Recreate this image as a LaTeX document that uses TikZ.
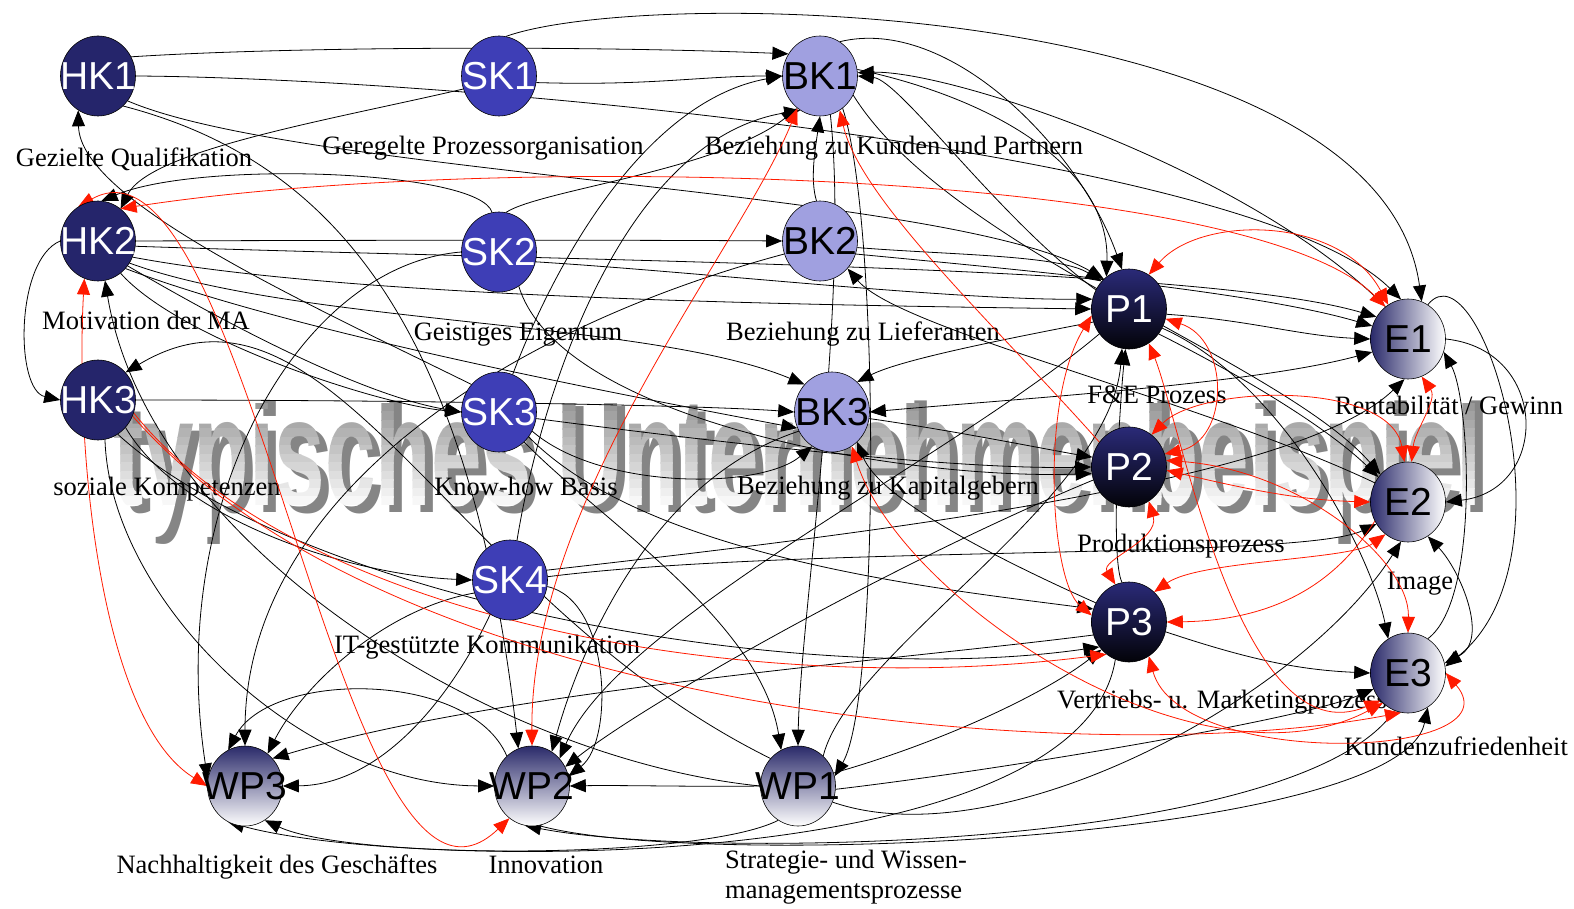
\documentclass[tikz,border=0pt]{standalone}
\usepackage{fontspec}
\setmainfont{Liberation Serif}
\newfontfamily\nodefam{Liberation Sans}
\newfontfamily\wmfam{Liberation Sans}
\usetikzlibrary{shapes.geometric,arrows.meta}
\definecolor{hkc}{HTML}{25256B}
\definecolor{skc}{HTML}{3E3EB6}
\definecolor{bkc}{HTML}{A0A0E0}
\definecolor{ptop}{HTML}{2A2A78}
\definecolor{pbot}{HTML}{030308}
\definecolor{eleft}{HTML}{2A2A6A}
\definecolor{wptop}{HTML}{2A2A6A}
\definecolor{redc}{HTML}{FF1A00}
\newcommand\nodefnt{\nodefam\fontsize{39}{39}\selectfont}
\newcommand\lblfnt{\rmfamily\fontsize{26.5}{30}\selectfont}
\newcommand\wmfnt{\wmfam\bfseries\fontsize{154}{160}\selectfont}
\newcommand\wmtxt{typisches Unternehmenbeispiel}
\pgfdeclarelayer{wmlayer}
\pgfdeclarelayer{edgelayer}
\pgfsetlayers{wmlayer,edgelayer,main}
\tikzset{
  nd/.style={ellipse, draw=black, line width=0.6pt, minimum width=75pt, minimum height=80pt, inner sep=0pt, font=\nodefnt},
  hkn/.style={nd, fill=hkc, text=white},
  skn/.style={nd, fill=skc, text=white},
  bkn/.style={nd, fill=bkc, text=black},
  pn/.style={nd, top color=ptop, bottom color=pbot, text=white},
  en/.style={nd, left color=eleft, right color=white, text=black},
  wpn/.style={nd, top color=wptop, bottom color=white, text=black},
  lbl/.style={font=\lblfnt, anchor=base, inner sep=0pt},
  wmtext/.style={anchor=base west, font=\wmfnt, inner sep=0pt, xscale=0.59},
  ed/.style={line width=0.8pt, -{Triangle[length=16pt,width=13pt]}},
  edd/.style={line width=0.8pt, {Triangle[length=16pt,width=13pt]}-{Triangle[length=16pt,width=13pt]}},
  rd/.style={ed, redc},
  rdd/.style={edd, redc}
}
\begin{document}
\begin{tikzpicture}[x=1pt,y=-1pt]
\useasboundingbox (0,0) rectangle (1574,909);
% watermark
\begin{pgfonlayer}{wmlayer}
  \node[wmtext, text=black!48] (wmshadow) at (121,512) {\wmtxt};
  \foreach \i in {0,...,11} {
    \pgfmathsetmacro\gv{40-37*\i/11}
    \begin{scope}
      \clip (0,403+\i*8.5) rectangle (1574,412+\i*8.5);
      \node[wmtext, text=black!\gv] at (113,505) {\wmtxt};
    \end{scope}
  }
  \begin{scope}
    \clip (0,505) rectangle (1574,580);
    \node[wmtext, text=white] (wmmain) at (113,505) {\wmtxt};
  \end{scope}
\end{pgfonlayer}
% nodes
\node[hkn] (hk1) at (98,76) {\makebox[0pt]{HK1}};
\node[skn] (sk1) at (499,76) {\makebox[0pt]{SK1}};
\node[bkn] (bk1) at (820,76) {\makebox[0pt]{BK1}};
\node[hkn] (hk2) at (98,241) {\makebox[0pt]{HK2}};
\node[skn] (sk2) at (499,252) {\makebox[0pt]{SK2}};
\node[bkn] (bk2) at (820,241) {\makebox[0pt]{BK2}};
\node[pn] (p1) at (1129,309) {\makebox[0pt]{P1}};
\node[en] (e1) at (1408,339) {\makebox[0pt]{E1}};
\node[hkn] (hk3) at (98,400) {\makebox[0pt]{HK3}};
\node[skn] (sk3) at (499,412) {\makebox[0pt]{SK3}};
\node[bkn] (bk3) at (832,412) {\makebox[0pt]{BK3}};
\node[pn] (p2) at (1129,467) {\makebox[0pt]{P2}};
\node[en] (e2) at (1408,502) {\makebox[0pt]{E2}};
\node[skn] (sk4) at (510,580) {\makebox[0pt]{SK4}};
\node[pn] (p3) at (1129,622) {\makebox[0pt]{P3}};
\node[en] (e3) at (1408,673) {\makebox[0pt]{E3}};
\node[wpn] (wp3) at (245,786) {\makebox[0pt]{WP3}};
\node[wpn] (wp2) at (532,786) {\makebox[0pt]{WP2}};
\node[wpn] (wp1) at (798,786) {\makebox[0pt]{WP1}};
\begin{pgfonlayer}{edgelayer}
% labels
\node[lbl] (l-hk1) at (134,167) {Gezielte Qualifikation};
\node[lbl] (l-sk1) at (483,155) {Geregelte Prozessorganisation};
\node[lbl] (l-bk1) at (894,155) {Beziehung zu Kunden und Partnern};
\node[lbl] (l-hk2) at (146,329) {Motivation der MA};
\node[lbl] (l-sk2) at (518,340) {Geistiges Eigentum};
\node[lbl] (l-bk2) at (863,340) {Beziehung zu Lieferanten};
\node[lbl] (l-p1) at (1157,403) {F\&E Prozess};
\node[lbl] (l-e1) at (1449,414) {Rentabilität / Gewinn};
\node[lbl] (l-hk3) at (167,495) {soziale Kompetenzen};
\node[lbl] (l-sk3) at (526,495) {Know-how Basis};
\node[lbl] (l-bk3) at (888,494) {Beziehung zu Kapitalgebern};
\node[lbl] (l-p2) at (1181,552) {Produktionsprozess};
\node[lbl] (l-e2) at (1420,589) {Image};
\node[lbl] (l-sk4) at (487,653) {IT-gestützte Kommunikation};
\node[lbl] (l-p3) at (1222,708) {Vertriebs- u. Marketingprozess};
\node[lbl] (l-e3) at (1456,755) {Kundenzufriedenheit};
\node[lbl] (l-wp3) at (277,873) {Nachhaltigkeit des Geschäftes};
\node[lbl] (l-wp2) at (546,873) {Innovation};
\node[lbl, anchor=base west, align=left] (l-wp1) at (725,898) {Strategie- und Wissen-\\managementsprozesse};
% black edges
\draw[ed] (hk1.30) .. controls (300,46) and (600,46) .. (bk1.145);
\draw[ed] (hk1.east) .. controls (450,78) and (1250,150) .. (e1.100);
\draw[ed] (sk1.80) .. controls (650,-15) and (1380,0) .. (e1.70);
\draw[ed] (sk1.-10) .. controls (650,86) and (700,76) .. (bk1.west);
\draw[ed] (hk1.-40) .. controls (300,175) and (950,190) .. (p1.130);
\draw[ed] (sk1.200) .. controls (330,120) and (150,150) .. (hk2.55);
\draw[ed] (sk2.100) .. controls (480,170) and (200,160) .. (hk2.85);
\draw[ed] (sk2.80) .. controls (540,190) and (720,170) .. (bk1.235);
\draw[ed] (hk2.east) .. controls (400,240) and (650,240) .. (bk2.west);
\draw[ed] (hk2.-25) .. controls (350,298) and (800,305) .. (p1.west);
\draw[ed] (hk2.-8) .. controls (600,262) and (1200,265) .. (e1.145);
\draw[ed] (hk2.-40) .. controls (220,320) and (360,395) .. (sk3.west);
\draw[ed] (hk2.-55) .. controls (180,340) and (380,405) .. (sk3.west);
\draw[ed] (hk2.-35) .. controls (300,325) and (650,320) .. (bk3.135);
\draw[ed] (bk2.95) .. controls (810,180) and (815,150) .. (bk1.south);
\draw[ed] (sk2.-15) .. controls (700,272) and (950,300) .. (p1.165);
\draw[ed] (bk2.-10) .. controls (950,255) and (1060,255) .. (p1.135);
\draw[ed] (bk2.-20) .. controls (1000,268) and (1250,290) .. (e1.160);
\draw[ed] (e2.150) .. controls (1200,400) and (900,330) .. (bk2.-45);
\draw[ed] (sk3.-50) .. controls (600,520) and (760,620) .. (wp1.115);
\draw[ed] (bk1.-75) .. controls (850,300) and (800,620) .. (wp1.north);
\draw[ed] (bk1.-55) .. controls (880,220) and (880,700) .. (wp1.15);
\draw[ed] (bk1.60) .. controls (950,15) and (1080,150) .. (p1.100);
\draw[ed] (bk1.10) .. controls (1000,100) and (1110,170) .. (p1.125);
\draw[ed] (p1.150) .. controls (1000,220) and (900,80) .. (bk1.east);
\draw[ed] (e1.125) .. controls (1250,170) and (950,70) .. (bk1.5);
\draw[ed] (bk1.-30) .. controls (950,250) and (1280,360) .. (e2.135);
\draw[ed] (hk3.east) .. controls (400,400) and (700,405) .. (bk3.west);
\draw[ed] (sk3.-10) .. controls (700,440) and (950,470) .. (p2.west);
\draw[ed] (hk2.-45) .. controls (300,335) and (650,400) .. (bk3.205);
\draw[ed] (sk3.-30) .. controls (600,490) and (760,490) .. (bk3.240);
\draw[ed] (p1.200) .. controls (1000,340) and (900,360) .. (bk3.50);
\draw[edd] (e1.200) .. controls (1250,385) and (1000,400) .. (bk3.east);
\draw[ed] (p1.-8) .. controls (1250,320) and (1300,336) .. (e1.west);
\draw[ed] (hk2.west) .. controls (15,260) and (15,390) .. (hk3.west);
\draw[ed] (wp2.130) .. controls (470,670) and (270,670) .. (wp3.115);
\draw[ed] (bk2.200) .. controls (500,330) and (245,500) .. (wp3.north);
\draw[ed] (sk2.180) .. controls (300,265) and (165,500) .. (wp3.170);
\draw[ed] (sk4.200) .. controls (380,610) and (300,690) .. (wp3.55);
\draw[ed] (sk4.240) .. controls (450,700) and (380,785) .. (wp3.east);
\draw[ed] (p3.200) .. controls (900,660) and (500,690) .. (wp3.45);
\draw[ed] (wp1.-120) .. controls (700,860) and (350,860) .. (wp3.-60);
\draw[ed] (p3.-110) .. controls (1080,880) and (400,870) .. (wp3.-115);
\draw[ed] (hk3.-80) .. controls (110,600) and (300,785) .. (wp2.west);
\draw[ed] (wp1.west) .. controls (500,760) and (150,550) .. (hk2.-80);
\draw[ed] (hk3.-45) .. controls (180,520) and (350,575) .. (sk4.west);
\draw[ed] (hk3.-60) .. controls (300,600) and (800,690) .. (p3.220);
\draw[ed] (wp1.135) .. controls (450,600) and (330,250) .. (hk3.45);
\draw[ed] (sk3.135) .. controls (300,300) and (80,200) .. (hk1.240);
\draw[ed] (bk3.210) .. controls (650,480) and (580,650) .. (wp2.60);
\draw[ed] (sk4.-10) .. controls (610,600) and (615,740) .. (wp2.15);
\draw[ed] (e3.-110) .. controls (1300,850) and (700,860) .. (wp2.-100);
\draw[ed] (p1.220) .. controls (950,460) and (620,620) .. (wp2.45);
\draw[ed] (p2.200) .. controls (900,560) and (650,700) .. (wp2.30);
\draw[ed] (hk1.-50) .. controls (330,160) and (470,320) .. (wp2.110);
\draw[ed] (wp1.180) .. controls (700,787) and (620,785) .. (wp2.0);
\draw[ed] (wp1.20) .. controls (950,740) and (1050,690) .. (p3.225);
\draw[ed] (wp1.-5) .. controls (1000,770) and (1300,720) .. (e3.205);
\draw[ed] (wp1.-25) .. controls (1000,860) and (1300,700) .. (e2.-100);
\draw[ed] (wp1.50) .. controls (850,650) and (1110,500) .. (p1.-100);
\draw[ed] (wp2.-80) .. controls (700,870) and (1400,840) .. (e3.-60);
\draw[ed] (e1.east) .. controls (1550,350) and (1550,490) .. (e2.east);
\draw[ed] (e1.60) .. controls (1480,240) and (1580,560) .. (e3.10);
\draw[ed] (e3.60) .. controls (1480,600) and (1470,400) .. (e1.-20);
\draw[edd] (e3.15) .. controls (1490,640) and (1460,570) .. (e2.-60);
\draw[ed] (p1.-40) .. controls (1250,380) and (1330,430) .. (e2.140);
\draw[ed] (p1.-30) .. controls (1280,380) and (1370,550) .. (e3.120);
\draw[ed] (p3.-15) .. controls (1250,660) and (1300,670) .. (e3.west);
\draw[ed] (sk4.15) .. controls (900,530) and (1300,480) .. (e1.-95);
\draw[ed] (sk4.5) .. controls (800,545) and (1300,560) .. (e2.215);
\draw[ed] (p3.100) .. controls (1110,560) and (1120,400) .. (p1.-95);
\draw[ed] (sk2.-60) .. controls (560,420) and (900,480) .. (p2.190);
\draw[ed] (sk3.-40) .. controls (650,560) and (950,590) .. (p3.160);
\draw[ed] (sk3.70) .. controls (560,250) and (650,100) .. (bk1.west);
\draw[ed] (sk4.80) .. controls (540,400) and (620,140) .. (bk1.240);
\draw[ed] (p3.150) .. controls (1000,560) and (880,500) .. (bk3.-50);
\draw[ed] (bk3.-10) .. controls (950,430) and (1050,450) .. (p2.165);
% red edges
\draw[rdd] (hk2.55) .. controls (500,150) and (1250,170) .. (e1.125);
\draw[rdd] (hk2.120) .. controls (250,110) and (340,980) .. (wp2.235);
\draw[rdd] (bk1.235) .. controls (740,250) and (530,500) .. (wp2.north);
\draw[rd] (p2.140) .. controls (1000,330) and (860,200) .. (bk1.-60);
\draw[rdd] (hk2.250) .. controls (75,450) and (100,720) .. (wp3.180);
\draw[rd] (hk3.-20) .. controls (300,620) and (750,700) .. (p3.235);
\draw[rd] (hk3.-25) .. controls (400,720) and (1100,770) .. (e3.-100);
\draw[rdd] (p1.60) .. controls (1200,215) and (1340,215) .. (e1.120);
\draw[rdd] (p1.-15) .. controls (1230,340) and (1230,440) .. (p2.20);
\draw[rdd] (p2.55) .. controls (1200,385) and (1390,380) .. (e2.95);
\draw[rdd] (p2.-5) .. controls (1250,490) and (1300,500) .. (e2.west);
\draw[rdd] (p2.-60) .. controls (1160,540) and (1100,560) .. (p3.110);
\draw[rdd] (p1.-60) .. controls (1180,420) and (1240,760) .. (e3.225);
\draw[rdd] (p1.190) .. controls (1040,400) and (1050,580) .. (p3.170);
\draw[rd] (e2.210) .. controls (1350,560) and (1300,620) .. (p3.east);
\draw[rdd] (p3.50) .. controls (1200,560) and (1350,560) .. (e2.235);
\draw[rdd] (e1.-70) .. controls (1438,400) and (1415,430) .. (e2.85);
\draw[rdd] (p2.10) .. controls (1300,470) and (1410,560) .. (e3.north);
\draw[rdd] (p3.-60) .. controls (1180,770) and (1520,760) .. (e3.east);
\draw[rdd] (bk3.-60) .. controls (900,600) and (1200,800) .. (e3.230);
\end{pgfonlayer}
\end{tikzpicture}
\end{document}
